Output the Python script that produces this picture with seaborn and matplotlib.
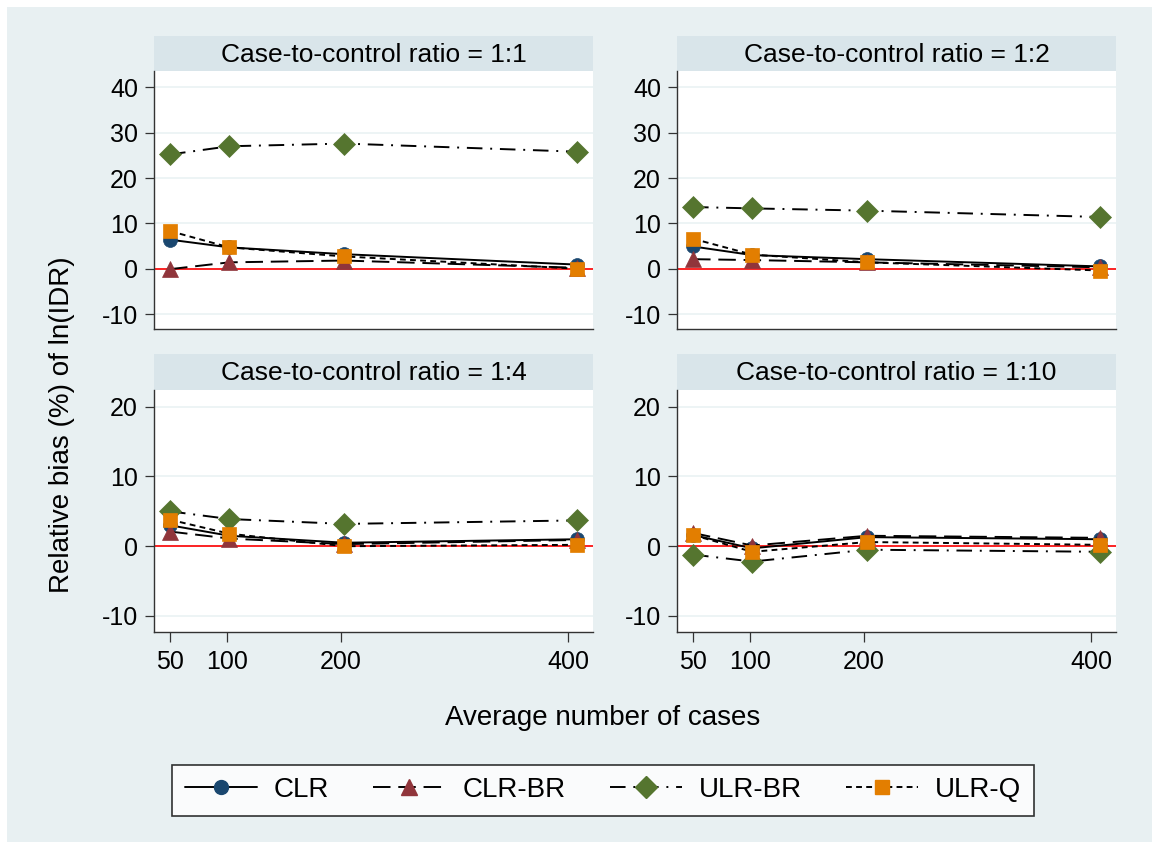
import matplotlib
matplotlib.use("Agg")
import matplotlib.pyplot as plt
import seaborn as sns
import pandas as pd
from matplotlib.lines import Line2D
from matplotlib.patches import Rectangle

sns.set_style("white")
plt.rcParams['font.family'] = ['Liberation Sans', 'DejaVu Sans']
plt.rcParams['text.color'] = 'black'
plt.rcParams['axes.labelcolor'] = 'black'
plt.rcParams['xtick.color'] = 'black'
plt.rcParams['ytick.color'] = 'black'

# ---------------- data ----------------
cases = [50, 102, 203, 408]
ratios = ["1:1", "1:2", "1:4", "1:10"]
methods = ["CLR", "CLR-BR", "ULR-BR", "ULR-Q"]

clr = {"1:1": [6.4, 4.7, 3.2, 0.9],
       "1:2": [4.9, 3.0, 2.1, 0.5],
       "1:4": [3.0, 1.5, 0.5, 1.0],
       "1:10": [1.6, -0.3, 1.3, 1.0]}
clr_br = {"1:1": [-0.1, 1.4, 1.8, 0.2],
          "1:2": [2.1, 1.9, 1.4, 0.3],
          "1:4": [2.1, 1.1, 0.3, 0.9],
          "1:10": [1.9, 0.1, 1.5, 1.2]}
ulr_br = {"1:1": [25.2, 27.0, 27.6, 25.8],
          "1:2": [13.6, 13.3, 12.8, 11.4],
          "1:4": [5.0, 3.9, 3.2, 3.7],
          "1:10": [-1.2, -2.2, -0.5, -0.8]}
ulr_q = {"1:1": [8.3, 4.7, 2.7, 0.0],
         "1:2": [6.6, 3.1, 1.4, -0.4],
         "1:4": [3.8, 1.8, 0.0, 0.2],
         "1:10": [1.6, -0.8, 0.6, 0.2]}

xticks = [50, 100, 200, 400]
yticks_top = [-10, 0, 10, 20, 30, 40]
yticks_bottom = [-10, 0, 10, 20]

series_values = {"CLR": clr, "CLR-BR": clr_br, "ULR-BR": ulr_br, "ULR-Q": ulr_q}

# ---------------- styles ----------------
colors = {"CLR": "#1a476f", "CLR-BR": "#90353b", "ULR-BR": "#55752f", "ULR-Q": "#e37e00"}
markers = {"CLR": "o", "CLR-BR": "^", "ULR-BR": "D", "ULR-Q": "s"}
msizes = {"CLR": 10, "CLR-BR": 11, "ULR-BR": 11, "ULR-Q": 10}
dashes = {"CLR": "-", "CLR-BR": (0, (9, 4)), "ULR-BR": (0, (8, 4, 1, 4)), "ULR-Q": (0, (3, 2.2))}

BG = "#E8F0F2"
STRIP = "#D9E5EA"
W, H = 1152, 842
FS_TITLE = 19
FS_LABEL = 20
FS_TICK = 18
FS_LEG = 20

fig = plt.figure(figsize=(W / 100, H / 100), dpi=100, facecolor="white")
fig.patches.append(Rectangle((7 / W, 0), 1 - 7 / W, 1 - 7 / H, transform=fig.transFigure,
                             facecolor=BG, edgecolor="none", zorder=-10))


def rect(x0, y0, x1, y1):
    return [x0 / W, 1 - y1 / H, (x1 - x0) / W, (y1 - y0) / H]


panels = [
    ("1:1", (154, 71, 593, 329), (36, 71), (-13.3, 43.6), yticks_top, False),
    ("1:2", (677, 71, 1116, 329), (36, 71), (-13.3, 43.6), yticks_top, False),
    ("1:4", (154, 390, 593, 632), (354, 390), (-12.3, 22.4), yticks_bottom, True),
    ("1:10", (677, 390, 1116, 632), (354, 390), (-12.3, 22.4), yticks_bottom, True),
]

for ratio, (x0, y0, x1, y1), (s0, s1), ylim, yt, show_x in panels:
    # strip
    sax = fig.add_axes(rect(x0, s0, x1, s1))
    sax.set_facecolor(STRIP)
    sax.set_xticks([]); sax.set_yticks([])
    for sp in sax.spines.values():
        sp.set_visible(False)
    sax.text(0.5, 0.47, f"Case-to-control ratio = {ratio}", ha="center", va="center",
             fontsize=FS_TITLE, transform=sax.transAxes)

    ax = fig.add_axes(rect(x0, y0, x1, y1))
    ax.set_facecolor("white")
    for ytk in yt:
        ax.axhline(ytk, color="#EAF2F3", lw=1.2, zorder=0)
    ax.axhline(0, color="#ff0000", lw=1.2, zorder=1)
    for m in methods:
        df = pd.DataFrame({"cases": cases, "bias": series_values[m][ratio]})
        sns.lineplot(data=df, x="cases", y="bias", ax=ax, color="black", lw=1.4,
                     linestyle=dashes[m], marker=markers[m], markersize=msizes[m],
                     markerfacecolor=colors[m], markeredgecolor=colors[m],
                     markeredgewidth=0.5, errorbar=None, zorder=3)
    ax.set_xlim(35.9, 421.7)
    ax.set_ylim(*ylim)
    ax.set_yticks(yt)
    ax.set_yticklabels([str(v) for v in yt])
    ax.set_xlabel(""); ax.set_ylabel("")
    for sp in ["top", "right"]:
        ax.spines[sp].set_visible(False)
    for sp in ["left", "bottom"]:
        ax.spines[sp].set_color("#333333")
        ax.spines[sp].set_linewidth(1.0)
    ax.tick_params(axis="y", direction="out", length=6.5, width=0.9, color="#333333",
                   pad=5, labelsize=FS_TICK, left=True)
    if show_x:
        ax.set_xticks(xticks)
        ax.set_xticklabels([str(v) for v in xticks])
        ax.tick_params(axis="x", direction="out", length=7, width=0.9, color="#333333",
                       pad=6, labelsize=FS_TICK, bottom=True)
    else:
        ax.set_xticks([])

fig.text(62 / W, 1 - 425 / H, "Relative bias (%) of ln(IDR)", rotation=90,
         ha="center", va="center", fontsize=FS_LABEL)
fig.text(603 / W, 1 - 718 / H, "Average number of cases", ha="center", va="center",
         fontsize=FS_LABEL)

handles = [Line2D([0], [0], color="black", lw=1.4, linestyle=dashes[m], marker=markers[m],
                  markersize=msizes[m], markerfacecolor=colors[m], markeredgecolor=colors[m])
           for m in methods]
leg = fig.legend(handles, methods, loc="center", bbox_to_anchor=(603 / W, 1 - 790 / H),
                 ncol=4, fontsize=FS_LEG, frameon=True, fancybox=False, edgecolor="black",
                 handlelength=2.6, handletextpad=0.6, columnspacing=1.6,
                 borderpad=0.45, borderaxespad=0)
leg.get_frame().set_linewidth(1.2)
leg.get_frame().set_facecolor("white")

fig.savefig("out.png", dpi=100, facecolor=fig.get_facecolor())
